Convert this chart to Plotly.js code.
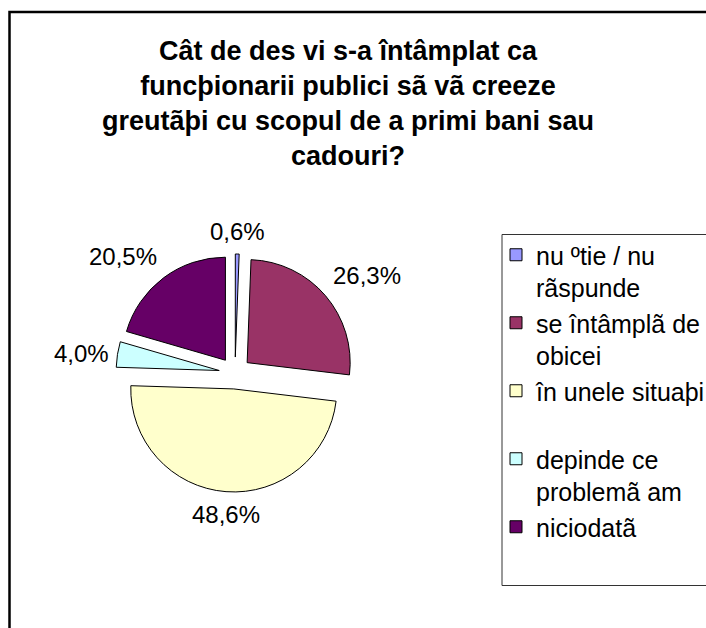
<!DOCTYPE html>
<html>
<head>
<meta charset="utf-8">
<script src="https://cdn.plot.ly/plotly-3.0.1.min.js"></script>
<style>html,body{margin:0;padding:0;background:#fff;}#chart{width:706px;height:628px;}</style>
</head>
<body>
<div id="chart"></div>
<script>
var categories = [
  "nu ºtie / nu<br>rãspunde",
  "se întâmplã de<br>obicei",
  "în unele situaþi<br>\u00a0",
  "depinde ce<br>problemã am",
  "niciodatã"
];
var values = [0.6, 26.3, 48.6, 4.0, 20.5];
var colors = ["#9999FF", "#993366", "#FFFFCC", "#CCFFFF", "#660066"];
var titleLines = [
  "Cât de des vi s-a întâmplat ca",
  "funcþionarii publici sã vã creeze",
  "greutãþi cu scopul de a primi bani sau",
  "cadouri?"
];

var W = 706, H = 628;
var FONT = "Arial, 'Liberation Sans', sans-serif";
function px(x){ return x / W; }
function py(y){ return 1 - y / H; }

var pullFrac = 0.155;
var domX = [px(116), px(354)];
var domY = [py(492), py(254)];

var trace = {
  type: "pie",
  labels: categories,
  values: values,
  sort: false,
  direction: "clockwise",
  rotation: 0,
  pull: values.map(function(){ return pullFrac; }),
  marker: { colors: colors, line: { color: "#000000", width: 1 } },
  textinfo: "none",
  hoverinfo: "none",
  automargin: false,
  domain: { x: domX, y: domY }
};

// percentage labels placed along each slice's bisector (computed from the data)
var total = values.reduce(function(a, b){ return a + b; }, 0);
var cxp = (domX[0] + domX[1]) / 2 * W;
var cyp = (1 - (domY[0] + domY[1]) / 2) * H;
var boxPx = Math.min((domX[1] - domX[0]) * W, (domY[1] - domY[0]) * H);
var rPie = boxPx / 2 / (1 + pullFrac);
var rLabel = rPie * (1 + pullFrac) + 7;
var annotations = [];
var cum = 0;
values.forEach(function(v){
  var mid = (cum + v / 2) / total * 2 * Math.PI;
  cum += v;
  var ux = Math.sin(mid), uy = -Math.cos(mid);
  var ax = cxp + rLabel * ux, ay = cyp + rLabel * uy;
  annotations.push({
    xref: "paper", yref: "paper",
    x: ax / W, y: 1 - ay / H,
    text: (v / total * 100).toFixed(1).replace(".", ",") + "%",
    showarrow: false,
    xanchor: ux > 0.35 ? "left" : (ux < -0.35 ? "right" : "center"),
    yanchor: uy < -0.35 ? "bottom" : (uy > 0.35 ? "top" : "middle"),
    font: { family: FONT, size: 24, color: "#000000" }
  });
});

var layout = {
  width: W,
  height: H,
  margin: { l: 0, r: 0, t: 0, b: 0, autoexpand: false },
  paper_bgcolor: "#ffffff",
  plot_bgcolor: "#ffffff",
  font: { family: FONT, color: "#000000" },
  title: {
    text: "<b>" + titleLines.join("<br>") + "</b>",
    font: { family: FONT, size: 27, color: "#000000" },
    x: px(348),
    xanchor: "center",
    xref: "paper",
    y: py(60),
    yanchor: "top",
    yref: "paper"
  },
  showlegend: true,
  legend: {
    x: px(496),
    xanchor: "left",
    y: py(232),
    yanchor: "top",
    bgcolor: "rgba(0,0,0,0)",
    borderwidth: 0,
    valign: "top",
    font: { family: FONT, size: 25, color: "#000000" }
  },
  annotations: annotations,
  shapes: [
    { type: "rect", xref: "paper", yref: "paper",
      x0: px(9.5), x1: px(740), y0: py(12), y1: py(660),
      line: { color: "#000000", width: 2.5 }, fillcolor: "rgba(0,0,0,0)" },
    { type: "rect", xref: "paper", yref: "paper",
      x0: px(502), x1: px(740), y0: py(234.5), y1: py(585.5),
      line: { color: "#333333", width: 1 }, fillcolor: "rgba(0,0,0,0)" }
  ]
};

Plotly.newPlot("chart", [trace], layout, { staticPlot: true, displayModeBar: false });
</script>
</body>
</html>
